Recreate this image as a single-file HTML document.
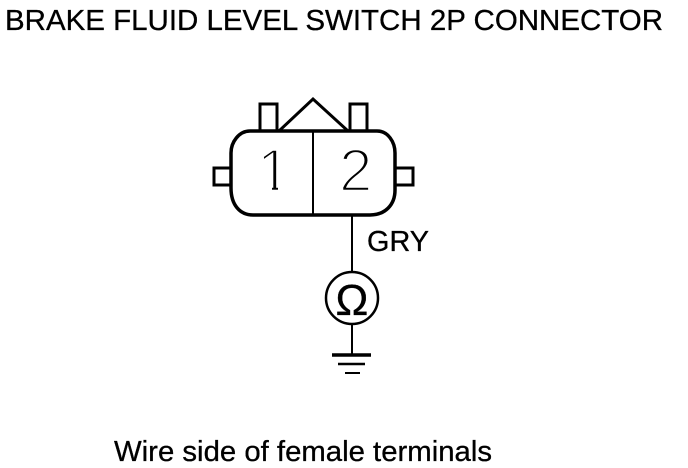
<!DOCTYPE html>
<html><head><meta charset="utf-8"><style>
html,body{margin:0;padding:0;background:#fff}
svg{display:block}
text{font-family:"Liberation Sans",sans-serif;fill:#000}
</style></head><body>
<svg width="688" height="468" viewBox="0 0 688 468" xmlns="http://www.w3.org/2000/svg">
<defs><clipPath id="c1"><path d="M255 140H290V185H278V193H272V185H255Z"/></clipPath></defs>
<g fill="none" stroke="#000" stroke-width="3">
<path d="M260 131V104H277V131M350 131V104H367V131"/>
<path d="M279 131L313 99L348 131"/>
<path d="M250 131H377C388 131 395 142 395 153V190C395 205 385 215 370 215H253C240 215 231 205 231 188V153C231 142 239 131 250 131Z" stroke-width="3.5"/>
<path d="M231 168H214V185H231M395 168H413V185H395"/>
<path d="M313 131V215" stroke-width="2"/>
<path d="M352 216V272M352 325V355" stroke-width="2"/>
<circle cx="352" cy="298" r="26" stroke-width="2.5"/>
<path d="M332 355H371" stroke-width="3.5"/>
<path d="M338 364H365" stroke-width="2.5"/>
<path d="M345 373H360" stroke-width="2"/>
</g>
<text x="5" y="30" font-size="29" textLength="658" lengthAdjust="spacingAndGlyphs" stroke="#000" stroke-width=".3">BRAKE FLUID LEVEL SWITCH 2P CONNECTOR</text>
<text x="257" y="191" font-size="60" stroke="#fff" stroke-width="2.4" clip-path="url(#c1)">1</text>
<text x="339" y="191" font-size="60" stroke="#fff" stroke-width="2.4">2</text>
<text x="367" y="251" font-size="29" textLength="62" lengthAdjust="spacingAndGlyphs" stroke="#000" stroke-width=".3">GRY</text>
<text x="352" y="315" font-size="44" text-anchor="middle" stroke="#000" stroke-width=".3">Ω</text>
<text x="114" y="461" font-size="29" textLength="378" lengthAdjust="spacingAndGlyphs" stroke="#000" stroke-width=".3">Wire side of female terminals</text>
</svg>
</body></html>
